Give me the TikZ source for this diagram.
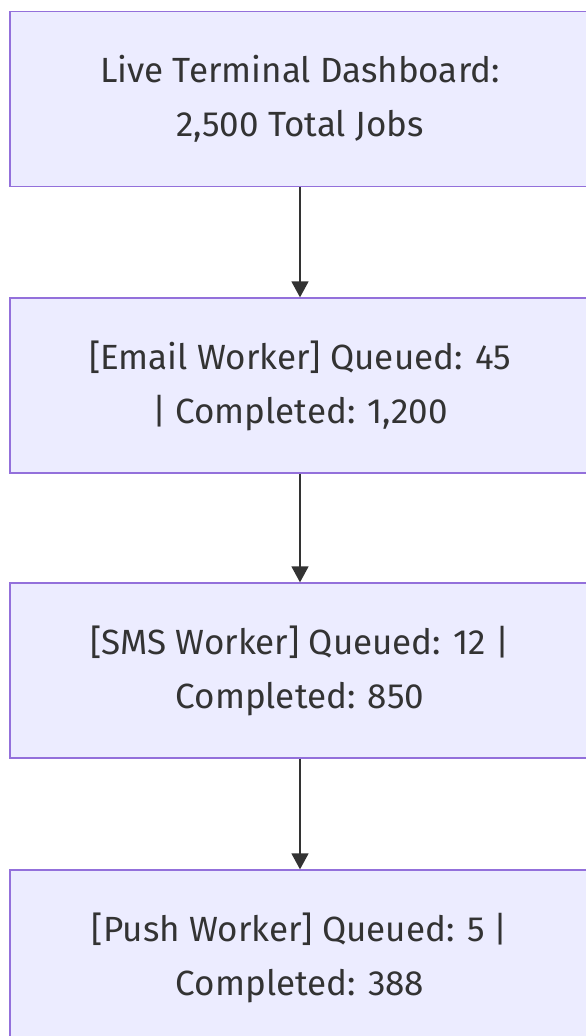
\documentclass[tikz,border=0pt]{standalone}
\usepackage{fontspec}
\setmainfont{Fira Sans}
\usetikzlibrary{arrows.meta}
\definecolor{boxfill}{HTML}{ECECFF}
\definecolor{boxline}{HTML}{9370DB}
\definecolor{ink}{HTML}{333333}
\begin{document}
\begin{tikzpicture}[x=1pt,y=-1pt,
  stage/.style={draw=boxline, fill=boxfill, line width=1.3pt, minimum width=580pt,
    minimum height=175pt, inner sep=0pt, align=center, text=ink,
    font=\fontsize{35}{54}\selectfont},
  flow/.style={draw=ink, line width=1.6pt, -{Triangle[length=16pt,width=17pt]}}]
  \useasboundingbox (0,0) rectangle (586,1036);
  \clip (0,0) rectangle (586,1036);
  \fill[white] (0,0) rectangle (586,1036);
  \node[stage] (dash)  at (300,99)  {Live Terminal Dashboard:\\2,500 Total Jobs};
  \node[stage] (email) at (300,385.5) {[Email Worker] Queued: 45\\| Completed: 1,200};
  \node[stage] (sms)   at (300,670.5) {[SMS Worker] Queued: 12 |\\Completed: 850};
  \node[stage] (push)  at (300,957.5) {[Push Worker] Queued: 5 |\\Completed: 388};
  \draw[flow] (dash.south) -- (email.north);
  \draw[flow] (email.south) -- (sms.north);
  \draw[flow] (sms.south) -- (push.north);
\end{tikzpicture}
\end{document}
